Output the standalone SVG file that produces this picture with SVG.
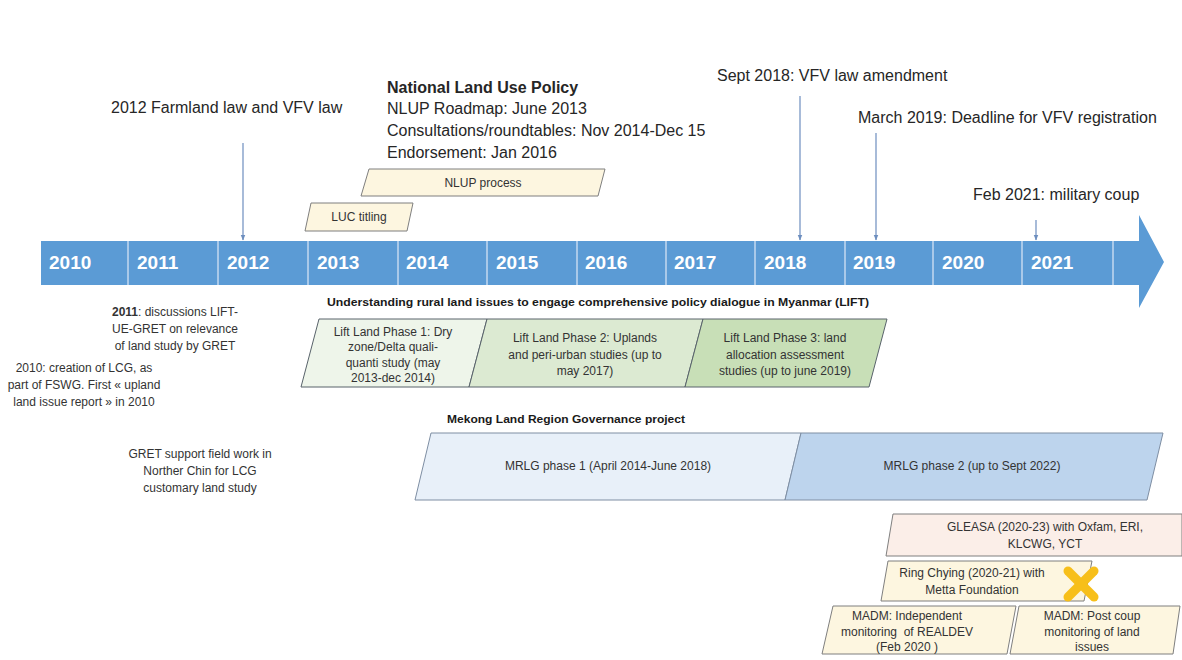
<svg xmlns="http://www.w3.org/2000/svg" width="1182" height="660" viewBox="0 0 1182 660">
  <defs>
    <marker id="tip" viewBox="0 0 10 10" refX="9" refY="5" markerWidth="5" markerHeight="5" orient="auto">
      <path d="M0,1 L10,5 L0,9 z" fill="#6d8ebf"/>
    </marker>
    <style>
      text { font-family: "Liberation Sans", Arial, sans-serif; fill: #262626; }
      .ev { font-size: 16px; }
      .evb { font-size: 16px; font-weight: bold; }
      .yr { font-size: 19px; font-weight: bold; fill: #ffffff; }
      .sm { font-size: 12px; text-anchor: middle; fill: #333333; }
      .hd { font-size: 11px; font-weight: bold; fill: #1a1a1a; }
      .div { stroke: #c3d8ef; stroke-width: 1.5; }
      .conn { stroke: #6d8ebf; stroke-width: 1.2; fill: none; marker-end: url(#tip); }
      .yel { fill: #fdf6e0; stroke: #7f7f7f; stroke-width: 1; }
      .pink { fill: #fbeee8; stroke: #7f7f7f; stroke-width: 1; }
      .g1 { fill: #eef5ea; stroke: #59636b; stroke-width: 1; }
      .g2 { fill: #dcead2; stroke: #59636b; stroke-width: 1; }
      .g3 { fill: #c8dfb7; stroke: #59636b; stroke-width: 1; }
      .b1 { fill: #e8f0f9; stroke: #7e8ea3; stroke-width: 1; }
      .b2 { fill: #bdd4ed; stroke: #7e8ea3; stroke-width: 1; }
    </style>
  </defs>

  <rect width="1182" height="660" fill="#ffffff"/>

  <!-- timeline arrow with year cells -->
  <g id="timeline">
    <polygon points="41,241 1139,241 1139,215 1164,262 1139,308 1139,285 41,285" fill="#5b9bd5"/>
    <line class="div" x1="128" y1="241" x2="128" y2="285"/>
    <line class="div" x1="218" y1="241" x2="218" y2="285"/>
    <line class="div" x1="308" y1="241" x2="308" y2="285"/>
    <line class="div" x1="398" y1="241" x2="398" y2="285"/>
    <line class="div" x1="487" y1="241" x2="487" y2="285"/>
    <line class="div" x1="577" y1="241" x2="577" y2="285"/>
    <line class="div" x1="666" y1="241" x2="666" y2="285"/>
    <line class="div" x1="755" y1="241" x2="755" y2="285"/>
    <line class="div" x1="845" y1="241" x2="845" y2="285"/>
    <line class="div" x1="933" y1="241" x2="933" y2="285"/>
    <line class="div" x1="1022" y1="241" x2="1022" y2="285"/>
    <line class="div" x1="1113" y1="241" x2="1113" y2="285"/>
    <text class="yr" x="49" y="269">2010</text>
    <text class="yr" x="137" y="269">2011</text>
    <text class="yr" x="227" y="269">2012</text>
    <text class="yr" x="317" y="269">2013</text>
    <text class="yr" x="406" y="269">2014</text>
    <text class="yr" x="496" y="269">2015</text>
    <text class="yr" x="585" y="269">2016</text>
    <text class="yr" x="674" y="269">2017</text>
    <text class="yr" x="764" y="269">2018</text>
    <text class="yr" x="853" y="269">2019</text>
    <text class="yr" x="942" y="269">2020</text>
    <text class="yr" x="1031" y="269">2021</text>
  </g>

  <!-- event pointers -->
  <g id="connectors">
    <line class="conn" x1="243" y1="143" x2="243" y2="240"/>
    <line class="conn" x1="800" y1="96" x2="800" y2="240"/>
    <line class="conn" x1="876" y1="133" x2="876" y2="240"/>
    <line class="conn" x1="1036" y1="220" x2="1036" y2="240"/>
  </g>

  <!-- events above the timeline -->
  <g id="ev-2012">
    <text class="ev" x="111" y="113">2012 Farmland law and VFV law</text>
  </g>
  <g id="ev-nlup">
    <text class="evb" x="387" y="93">National Land Use Policy</text>
    <text class="ev" x="387" y="114">NLUP Roadmap: June 2013</text>
    <text class="ev" x="387" y="136">Consultations/roundtables: Nov 2014-Dec 15</text>
    <text class="ev" x="387" y="158">Endorsement: Jan 2016</text>
  </g>
  <g id="ev-2018">
    <text class="ev" x="717" y="81">Sept 2018: VFV law amendment</text>
  </g>
  <g id="ev-2019">
    <text class="ev" x="858" y="123">March 2019: Deadline for VFV registration</text>
  </g>
  <g id="ev-2021">
    <text class="ev" x="973" y="200">Feb 2021: military coup</text>
  </g>

  <g id="nlup-process">
    <polygon class="yel" points="369,169 605,169 598,196 361,196"/>
    <text class="sm" x="483" y="187">NLUP process</text>
  </g>
  <g id="luc-titling">
    <polygon class="yel" points="311,203 413,203 407,231 305,231"/>
    <text class="sm" x="359" y="221">LUC titling</text>
  </g>

  <!-- notes on the left -->
  <g id="note-2011">
    <text class="sm" x="175" y="316"><tspan font-weight="bold">2011</tspan>: discussions LIFT-</text>
    <text class="sm" x="175" y="333">UE-GRET on relevance</text>
    <text class="sm" x="175" y="350">of land study by GRET</text>
  </g>
  <g id="note-2010">
    <text class="sm" x="84" y="372">2010: creation of LCG, as</text>
    <text class="sm" x="84" y="389">part of FSWG. First « upland</text>
    <text class="sm" x="84" y="406">land issue report » in 2010</text>
  </g>
  <g id="note-gret">
    <text class="sm" x="200" y="458">GRET support field work in</text>
    <text class="sm" x="200" y="475">Norther Chin for LCG</text>
    <text class="sm" x="200" y="492">customary land study</text>
  </g>

  <!-- LIFT project phases -->
  <g id="lift">
    <text class="hd" x="327" y="306" textLength="542" lengthAdjust="spacingAndGlyphs">Understanding rural land issues to engage comprehensive policy dialogue in Myanmar (LIFT)</text>
  </g>
  <g id="lift-1">
    <polygon class="g1" points="319,319 487,319 469,387 301,387"/>
    <text class="sm" x="393" y="336">Lift Land Phase 1: Dry</text>
    <text class="sm" x="393" y="351">zone/Delta quali-</text>
    <text class="sm" x="393" y="367">quanti study (may</text>
    <text class="sm" x="393" y="382">2013-dec 2014)</text>
  </g>
  <g id="lift-2">
    <polygon class="g2" points="487,319 703,319 685,387 469,387"/>
    <text class="sm" x="585" y="342">Lift Land Phase 2: Uplands</text>
    <text class="sm" x="585" y="359">and peri-urban studies (up to</text>
    <text class="sm" x="585" y="375">may 2017)</text>
  </g>
  <g id="lift-3">
    <polygon class="g3" points="703,319 887,319 869,387 685,387"/>
    <text class="sm" x="785" y="342">Lift Land Phase 3: land</text>
    <text class="sm" x="785" y="359">allocation assessment</text>
    <text class="sm" x="785" y="375">studies (up to june 2019)</text>
  </g>

  <!-- MRLG project phases -->
  <g id="mrlg">
    <text class="hd" x="447" y="423" textLength="238" lengthAdjust="spacingAndGlyphs">Mekong Land Region Governance project</text>
  </g>
  <g id="mrlg-1">
    <polygon class="b1" points="431,433 801,433 785,500 415,500"/>
    <text class="sm" x="608" y="470">MRLG phase 1 (April 2014-June 2018)</text>
  </g>
  <g id="mrlg-2">
    <polygon class="b2" points="801,433 1163,433 1147,500 785,500"/>
    <text class="sm" x="972" y="470">MRLG phase 2 (up to Sept 2022)</text>
  </g>

  <!-- recent projects -->
  <g id="gleasa">
    <polygon class="pink" points="893,514 1182,514 1182,556 886,556"/>
    <text class="sm" x="1045" y="531">GLEASA (2020-23) with Oxfam, ERI,</text>
    <text class="sm" x="1045" y="548">KLCWG, YCT</text>
  </g>
  <g id="ring-chying">
    <polygon class="yel" points="888,561 1092,561 1084,601 881,601"/>
    <text class="sm" x="972" y="577">Ring Chying (2020-21) with</text>
    <text class="sm" x="972" y="594">Metta Foundation</text>
    <g stroke="#f7bf1a" stroke-width="9" stroke-linecap="round">
      <line x1="1068" y1="571" x2="1094" y2="597"/>
      <line x1="1094" y1="571" x2="1068" y2="597"/>
    </g>
  </g>
  <g id="madm-1">
    <polygon class="yel" points="833,606 1016,606 1007,654 822,654"/>
    <text class="sm" x="907" y="620">MADM: Independent</text>
    <text class="sm" x="907" y="636" xml:space="preserve">monitoring  of REALDEV</text>
    <text class="sm" x="907" y="651">(Feb 2020 )</text>
  </g>
  <g id="madm-2">
    <polygon class="yel" points="1019,606 1180,606 1173,654 1010,654"/>
    <text class="sm" x="1092" y="620">MADM: Post coup</text>
    <text class="sm" x="1092" y="636">monitoring of land</text>
    <text class="sm" x="1092" y="651">issues</text>
  </g>
</svg>
